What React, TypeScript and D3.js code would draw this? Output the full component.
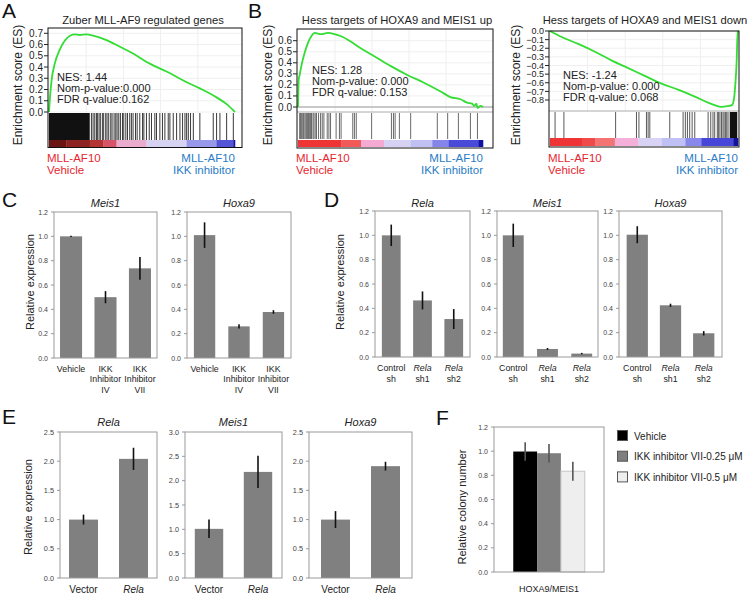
import React from "react";
import * as d3 from "d3";

const FONT = "'Liberation Sans', Arial, Helvetica, sans-serif";
const RED = "#e8262e";
const BLUE = "#2a7cc7";

// ---------------- GSEA data (rank scaled 0..1000) ----------------
const curveA: [number, number][] = [
  [0, 0], [4, 0.1], [13, 0.27], [31, 0.43], [57, 0.55], [93, 0.65], [138, 0.69], [165, 0.685],
  [201, 0.69], [237, 0.68], [309, 0.64], [381, 0.58], [452, 0.52], [542, 0.43], [632, 0.36],
  [722, 0.28], [811, 0.21], [901, 0.13], [955, 0.07], [1000, 0],
];
const denseA: [number, number][] = [[0, 219]];
const hitsA = [
  228, 237, 246, 255, 260, 269, 276, 287, 294, 305, 312, 321, 332, 339, 350, 359, 366, 375, 384,
  395, 402, 413, 422, 434, 443, 452, 465, 474, 488, 503, 510, 524, 539, 551, 569, 578, 596, 610,
  623, 641, 650, 668, 686, 704, 718, 731, 740, 749, 761, 776, 811, 883, 901, 919, 955, 991,
];
const ticksA = [0, 0.1, 0.2, 0.3, 0.4, 0.5, 0.6, 0.7];

const curveB1: [number, number][] = [
  [0, 0], [4, 0.25], [9, 0.29], [18, 0.37], [36, 0.49], [54, 0.58], [72, 0.64], [90, 0.67],
  [125, 0.66], [161, 0.67], [197, 0.66], [233, 0.64], [287, 0.59], [341, 0.53], [412, 0.46],
  [502, 0.37], [591, 0.29], [681, 0.22], [771, 0.14], [824, 0.09], [878, 0.07], [914, 0.04],
  [941, 0.03], [953, 0.01], [964, 0.03], [971, -0.01], [986, 0.01], [1000, 0],
];
const hitsB1 = [
  9, 14, 18, 23, 29, 32, 38, 43, 47, 52, 57, 63, 68, 73, 81, 86, 93, 100, 111, 122, 131, 140,
  158, 167, 176, 206, 224, 233, 296, 305, 315, 398, 505, 516, 525, 548, 609, 753, 809, 867, 932, 970,
];
const ticksB1 = [0, 0.1, 0.2, 0.3, 0.4, 0.5, 0.6];

const curveB2: [number, number][] = [
  [0, 0], [62, -0.07], [150, -0.15], [239, -0.24], [327, -0.34], [416, -0.43], [504, -0.52],
  [593, -0.61], [681, -0.68], [770, -0.76], [841, -0.83], [876, -0.86], [912, -0.88], [947, -0.87],
  [968, -0.86], [979, -0.78], [986, -0.61], [993, -0.34], [996, -0.11], [1000, 0],
];
const denseB2: [number, number][] = [[956, 996]];
const hitsB2 = [
  27, 74, 349, 460, 473, 513, 522, 531, 637, 708, 720, 731, 743, 756, 770, 841, 855, 867, 876,
  890, 897, 904, 912, 920, 926, 933, 940, 947,
];
const ticksB2 = [0, -0.1, -0.2, -0.3, -0.4, -0.5, -0.6, -0.7, -0.8];

// ranked-list colour bands [startRank, endRank, colour]
const bandsA: [number, number, string][] = [
  [0, 93, "#6a1414"], [93, 219, "#8c2222"], [219, 291, "#b43434"], [291, 363, "#d65468"],
  [363, 524, "#eaaccc"], [524, 740, "#d6d2f2"], [740, 901, "#9898ea"], [901, 991, "#5454d6"],
  [991, 1000, "#1818a0"],
];
const bandsB1: [number, number, string][] = [
  [0, 233, "#ee3434"], [233, 341, "#f25a5a"], [341, 466, "#f4aad2"], [466, 609, "#d6d2f4"],
  [609, 726, "#c0c0f2"], [726, 815, "#8484ea"], [815, 977, "#4a4ad8"], [977, 1000, "#1212a0"],
];
const bandsB2: [number, number, string][] = [
  [0, 170, "#ee3434"], [170, 240, "#f04a4a"], [240, 345, "#f47474"], [345, 470, "#f4b0d8"],
  [470, 595, "#d8d2f4"], [595, 720, "#c0c0f4"], [720, 805, "#8888ec"], [805, 975, "#4646d8"],
  [975, 1000, "#12129a"],
];

// ---------------- Bar chart data ----------------
type Line = { t: string; i?: boolean };
const catsC: Line[][] = [
  [{ t: "Vehicle" }],
  [{ t: "IKK" }, { t: "Inhibitor" }, { t: "IV" }],
  [{ t: "IKK" }, { t: "Inhibitor" }, { t: "VII" }],
];
const cMeis1 = [1.0, 0.5, 0.737];
const cMeis1Err = [0.005, 0.05, 0.093];
const cHoxa9 = [1.01, 0.26, 0.378];
const cHoxa9Err = [0.105, 0.018, 0.015];

const catsD: Line[][] = [
  [{ t: "Control" }, { t: "sh" }],
  [{ t: "Rela", i: true }, { t: "sh1" }],
  [{ t: "Rela", i: true }, { t: "sh2" }],
];
const dRela = [1.0, 0.465, 0.312];
const dRelaErr = [0.088, 0.074, 0.082];
const dMeis1 = [1.0, 0.066, 0.028];
const dMeis1Err = [0.096, 0.008, 0.006];
const dHoxa9 = [1.005, 0.425, 0.195];
const dHoxa9Err = [0.07, 0.013, 0.018];

const catsE: Line[][] = [[{ t: "Vector" }], [{ t: "Rela", i: true }]];
const eRela = [1.0, 2.04];
const eRelaErr = [0.085, 0.19];
const eMeis1 = [1.01, 2.18];
const eMeis1Err = [0.19, 0.33];
const eHoxa9 = [1.0, 1.915];
const eHoxa9Err = [0.145, 0.075];

const fGroup = "HOXA9/MEIS1";
const fSeries = ["Vehicle", "IKK inhibitor VII-0.25 \u03bcM", "IKK inhibitor VII-0.5 \u03bcM"];
const fValues = [0.997, 0.983, 0.834];
const fErr = [0.076, 0.076, 0.078];
const fFill = ["#000000", "#7f7f7f", "#eeeeee"];

const ticks12 = [0, 0.2, 0.4, 0.6, 0.8, 1.0, 1.2];
const ticks25 = [0, 0.5, 1.0, 1.5, 2.0, 2.5];
const ticks30 = [0, 0.5, 1.0, 1.5, 2.0, 2.5, 3.0];

const fmt1 = d3.format(".1f");

// ---------------- Components ----------------
type GseaProps = {
  frameL: number; frameR: number; dataR: number; top: number; esBottom: number;
  hitTop: number; hitBottom: number; barTop: number; barBottom: number; frameBottom: number;
  yRef: [number, number, number, number]; ticks: number[]; tickFont: number; curve: [number, number][];
  hits: number[]; dense: [number, number][]; bands: [number, number, string][];
  title: string; titleX: number; nes: string[]; nesX: number; nesY: number;
  ylabelX: number; zeroLine: boolean; hitColor: string; sep: boolean;
};

function Gsea(p: GseaProps) {
  const x = d3.scaleLinear().domain([0, 1000]).range([p.frameL + 1, p.dataR]);
  const y = d3.scaleLinear().domain([p.yRef[0], p.yRef[1]]).range([p.yRef[2], p.yRef[3]]);
  const line = d3.line<[number, number]>().x((d) => x(d[0])).y((d) => y(d[1])).curve(d3.curveMonotoneX);
  const gridX = [200, 400, 600, 800];
  return (
    <g>
      {p.ticks.map((t) => (
        <line key={"g" + t} x1={p.frameL} x2={p.frameR} y1={y(t)} y2={y(t)} stroke="#efefef" strokeWidth={1} />
      ))}
      {gridX.map((g) => (
        <line key={"gx" + g} x1={x(g)} x2={x(g)} y1={p.top} y2={p.esBottom} stroke="#efefef" strokeWidth={1} />
      ))}
      {p.zeroLine && (
        <line x1={p.frameL} x2={p.frameR} y1={y(0)} y2={y(0)} stroke="#9a9a9a" strokeWidth={1} />
      )}
      {p.sep && (
        <line x1={p.frameL} x2={p.frameR} y1={p.esBottom} y2={p.esBottom} stroke="#aaaaaa" strokeWidth={1} />
      )}
      {p.bands.map((b, i) => (
        <rect key={"b" + i} x={x(b[0])} width={x(b[1]) - x(b[0]) + 0.3} y={p.barTop} height={p.barBottom - p.barTop} fill={b[2]} />
      ))}
      {p.dense.map((d, i) => (
        <rect key={"d" + i} x={x(d[0])} width={x(d[1]) - x(d[0])} y={p.hitTop} height={p.hitBottom - p.hitTop} fill="#111" />
      ))}
      {p.hits.map((h, i) => (
        <line key={"h" + i} x1={x(h)} x2={x(h)} y1={p.hitTop} y2={p.hitBottom} stroke={p.hitColor} strokeWidth={1} />
      ))}
      <path d={line(p.curve) || ""} fill="none" stroke="#33dd33" strokeWidth={1.8} />
      <rect x={p.frameL} y={p.top} width={p.frameR - p.frameL} height={p.frameBottom - p.top} fill="none" stroke="#111" strokeWidth={1} />
      {p.ticks.map((t) => (
        <g key={"t" + t}>
          <line x1={p.frameL - 4} x2={p.frameL} y1={y(t)} y2={y(t)} stroke="#222" />
          <text x={p.frameL - 5} y={y(t) + p.tickFont * 0.35} textAnchor="end" fontSize={p.tickFont} fill="#222">{fmt1(t)}</text>
        </g>
      ))}
      <text x={p.titleX} y={24} textAnchor="middle" fontSize={11.2} fill="#222">{p.title}</text>
      {p.nes.map((s, i) => (
        <text key={"n" + i} x={p.nesX} y={p.nesY + i * 11} fontSize={11} fill="#222">{s}</text>
      ))}
      <text transform={`translate(${p.ylabelX},85) rotate(-90)`} textAnchor="middle" fontSize={12} fill="#222">
        Enrichment score (ES)
      </text>
      <text x={p.frameL - 1} y={162} fontSize={11.5} fill={RED}>MLL-AF10</text>
      <text x={p.frameL - 1} y={174} fontSize={11.5} fill={RED}>Vehicle</text>
      <text x={p.dataR} y={162} fontSize={11.5} fill={BLUE} textAnchor="end">MLL-AF10</text>
      <text x={p.dataR} y={174} fontSize={11.5} fill={BLUE} textAnchor="end">IKK inhibitor</text>
    </g>
  );
}

type BarProps = {
  x0: number; x1: number; y0: number; y1: number; max: number; ticks: number[];
  title: string; titleY: number; cats: Line[][]; values: number[]; errs: number[];
  pIn: number; pOut: number; catFont: number; tickFont: number; labelY: number; lineH: number;
};

function BarPanel(p: BarProps) {
  const x = d3.scaleBand<number>().domain(p.values.map((_, i) => i)).range([p.x0, p.x1]).paddingInner(p.pIn).paddingOuter(p.pOut);
  const y = d3.scaleLinear().domain([0, p.max]).range([p.y1, p.y0]);
  const bw = x.bandwidth();
  return (
    <g>
      {p.values.map((v, i) => (
        <rect key={"r" + i} x={x(i)} y={y(v)} width={bw} height={y(0) - y(v)} fill="#808080" />
      ))}
      {p.values.map((v, i) => (
        <line key={"e" + i} x1={(x(i) as number) + bw / 2} x2={(x(i) as number) + bw / 2} y1={y(v + p.errs[i])} y2={y(v - p.errs[i])} stroke="#111" strokeWidth={1.6} />
      ))}
      <rect x={p.x0} y={p.y0} width={p.x1 - p.x0} height={p.y1 - p.y0} fill="none" stroke="#9a9a9a" strokeWidth={1} />
      {p.ticks.map((t) => (
        <g key={"t" + t}>
          <line x1={p.x0 - 3} x2={p.x0} y1={y(t)} y2={y(t)} stroke="#9a9a9a" />
          <text x={p.x0 - 6} y={y(t) + 2.5} textAnchor="end" fontSize={p.tickFont} fill="#444">{fmt1(t)}</text>
        </g>
      ))}
      <text x={(p.x0 + p.x1) / 2} y={p.titleY} textAnchor="middle" fontSize={11} fontStyle="italic" fill="#222">{p.title}</text>
      {p.cats.map((c, i) =>
        c.map((l, j) => (
          <text key={"c" + i + "_" + j} x={(x(i) as number) + bw / 2} y={p.labelY + j * p.lineH} textAnchor="middle" fontSize={p.catFont} fontStyle={l.i ? "italic" : "normal"} fill="#222">
            {l.t}
          </text>
        ))
      )}
    </g>
  );
}

function PanelF() {
  const x0 = 494, x1 = 604, y0 = 427, y1 = 572;
  const xg = d3.scaleBand<string>().domain([fGroup]).range([x0, x1]).paddingInner(0.35).paddingOuter(0.175);
  const xs = d3.scaleBand<number>().domain(fValues.map((_, i) => i)).range([0, xg.bandwidth()]).padding(0);
  const y = d3.scaleLinear().domain([0, 1.2]).range([y1, y0]);
  const gx = xg(fGroup) as number;
  return (
    <g>
      {fValues.map((v, i) => (
        <rect key={"r" + i} x={gx + (xs(i) as number)} y={y(v)} width={xs.bandwidth()} height={y(0) - y(v)} fill={fFill[i]} stroke={i === 2 ? "#c4c4c4" : "none"} />
      ))}
      {fValues.map((v, i) => (
        <line key={"e" + i} x1={gx + (xs(i) as number) + xs.bandwidth() / 2} x2={gx + (xs(i) as number) + xs.bandwidth() / 2} y1={y(v + fErr[i])} y2={y(v - fErr[i])} stroke="#555" strokeWidth={1.6} />
      ))}
      <rect x={x0} y={y0} width={x1 - x0} height={y1 - y0} fill="none" stroke="#9a9a9a" />
      {ticks12.map((t) => (
        <g key={"t" + t}>
          <line x1={x0 - 3} x2={x0} y1={y(t)} y2={y(t)} stroke="#9a9a9a" />
          <text x={x0 - 6} y={y(t) + 2.5} textAnchor="end" fontSize={7} fill="#444">{fmt1(t)}</text>
        </g>
      ))}
      <text x={gx + xg.bandwidth() / 2} y={592} textAnchor="middle" fontSize={9} fill="#222">{fGroup}</text>
      <text transform="translate(466,507) rotate(-90)" textAnchor="middle" fontSize={11} fill="#222">Relative colony number</text>
      {fSeries.map((s, i) => (
        <g key={"l" + i}>
          <rect x={617.5} y={430.5 + i * 20.7} width={10} height={10} fill={fFill[i]} stroke="#555" />
          <text x={634} y={439.5 + i * 20.7} fontSize={10} fill="#222">{s}</text>
        </g>
      ))}
    </g>
  );
}

export default function App() {
  return (
    <svg width={750} height={595} style={{ position: "absolute", left: 0, top: 0, background: "#fff" }} fontFamily={FONT}>
      <rect x={0} y={0} width={750} height={595} fill="#fff" />
      {/* panel letters */}
      <text x={2} y={18} fontSize={21} fill="#111">A</text>
      <text x={248} y={18} fontSize={21} fill="#111">B</text>
      <text x={2} y={207} fontSize={21} fill="#111">C</text>
      <text x={324} y={207} fontSize={21} fill="#111">D</text>
      <text x={2} y={424} fontSize={21} fill="#111">E</text>
      <text x={436} y={425} fontSize={21} fill="#111">F</text>

      <Gsea frameL={48} frameR={242} dataR={235} top={28} esBottom={113} hitTop={113} hitBottom={140}
        barTop={140} barBottom={147} frameBottom={147.5} yRef={[0, 0.7, 112, 33.3]} ticks={ticksA} tickFont={10}
        curve={curveA} hits={hitsA} dense={denseA} bands={bandsA} title="Zuber MLL-AF9 regulated genes"
        titleX={143} nes={["NES: 1.44", "Nom-p-value:0.000", "FDR q-value:0.162"]} nesX={57} nesY={81}
        ylabelX={22} zeroLine={false} hitColor="#3a3a3a" sep={false} />
      <Gsea frameL={297} frameR={493} dataR={483} top={29} esBottom={112} hitTop={113} hitBottom={139}
        barTop={140} barBottom={147} frameBottom={148} yRef={[0, 0.6, 107, 40.7]} ticks={ticksB1} tickFont={10}
        curve={curveB1} hits={hitsB1} dense={[]} bands={bandsB1} title="Hess targets of HOXA9 and MEIS1 up"
        titleX={397} nes={["NES: 1.28", "Nom-p-value: 0.000", "FDR q-value: 0.153"]} nesX={312} nesY={74}
        ylabelX={272} zeroLine={true} hitColor="#6a6a6a" sep={true} />
      <Gsea frameL={549} frameR={739} dataR={738} top={31} esBottom={111} hitTop={112} hitBottom={138}
        barTop={138} barBottom={146} frameBottom={147} yRef={[0, -0.8, 31, 100]} ticks={ticksB2} tickFont={9}
        curve={curveB2} hits={hitsB2} dense={denseB2} bands={bandsB2} title="Hess targets of HOXA9 and MEIS1 down"
        titleX={645} nes={["NES: -1.24", "Nom-p-value: 0.000", "FDR q-value: 0.068"]} nesX={563} nesY={79}
        ylabelX={520} zeroLine={false} hitColor="#5a5a5a" sep={true} />

      {/* C */}
      <text transform="translate(34,282) rotate(-90)" textAnchor="middle" fontSize={11} fill="#222">Relative expression</text>
      <BarPanel x0={54} x1={157} y0={212} y1={358} max={1.2} ticks={ticks12} title="Meis1" titleY={207}
        cats={catsC} values={cMeis1} errs={cMeis1Err} pIn={0.36} pOut={0.175} catFont={8.8} tickFont={7}
        labelY={371.5} lineH={10.5} />
      <BarPanel x0={187} x1={291} y0={212} y1={358} max={1.2} ticks={ticks12} title="Hoxa9" titleY={207}
        cats={catsC} values={cHoxa9} errs={cHoxa9Err} pIn={0.38} pOut={0.2} catFont={8.8} tickFont={7}
        labelY={371.5} lineH={10.5} />

      {/* D */}
      <text transform="translate(344,282) rotate(-90)" textAnchor="middle" fontSize={11} fill="#222">Relative expression</text>
      <BarPanel x0={375} x1={470} y0={211} y1={357} max={1.2} ticks={ticks12} title="Rela" titleY={207}
        cats={catsD} values={dRela} errs={dRelaErr} pIn={0.4} pOut={0.22} catFont={8.8} tickFont={7}
        labelY={371} lineH={10.5} />
      <BarPanel x0={497} x1={598} y0={211} y1={357} max={1.2} ticks={ticks12} title="Meis1" titleY={207}
        cats={catsD} values={dMeis1} errs={dMeis1Err} pIn={0.39} pOut={0.17} catFont={8.8} tickFont={7}
        labelY={371} lineH={10.5} />
      <BarPanel x0={619} x1={722} y0={211} y1={357} max={1.2} ticks={ticks12} title="Hoxa9" titleY={207}
        cats={catsD} values={dHoxa9} errs={dHoxa9Err} pIn={0.36} pOut={0.23} catFont={8.8} tickFont={7}
        labelY={371} lineH={10.5} />

      {/* E */}
      <text transform="translate(32,507) rotate(-90)" textAnchor="middle" fontSize={11} fill="#222">Relative expression</text>
      <BarPanel x0={60} x1={157} y0={432} y1={578} max={2.5} ticks={ticks25} title="Rela" titleY={425.5}
        cats={catsE} values={eRela} errs={eRelaErr} pIn={0.42} pOut={0.18} catFont={10} tickFont={7.3}
        labelY={593} lineH={10.5} />
      <BarPanel x0={185} x1={282} y0={432} y1={578} max={3.0} ticks={ticks30} title="Meis1" titleY={425.5}
        cats={catsE} values={eMeis1} errs={eMeis1Err} pIn={0.42} pOut={0.2} catFont={10} tickFont={7.3}
        labelY={593} lineH={10.5} />
      <BarPanel x0={309} x1={412} y0={432} y1={578} max={2.5} ticks={ticks25} title="Hoxa9" titleY={425.5}
        cats={catsE} values={eHoxa9} errs={eHoxa9Err} pIn={0.42} pOut={0.24} catFont={10} tickFont={7.3}
        labelY={593} lineH={10.5} />

      <PanelF />
    </svg>
  );
}
